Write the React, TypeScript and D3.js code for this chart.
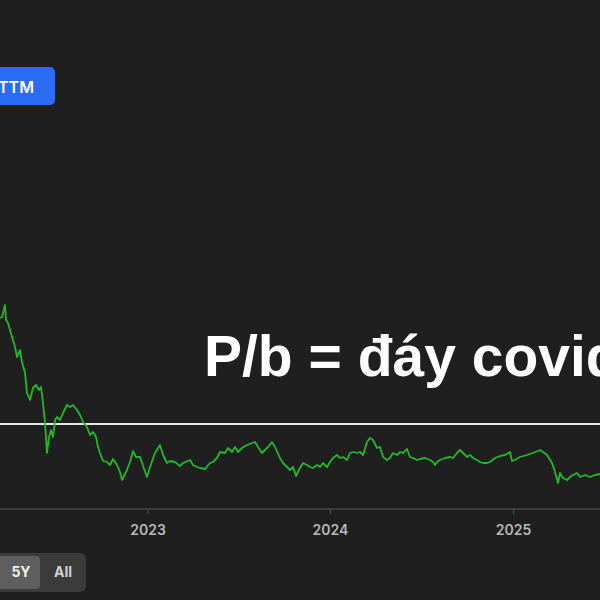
import React from "react";
import * as d3 from "d3";

const dates: string[] = [
  "2022-03-11","2022-03-15","2022-03-21","2022-03-23","2022-03-27","2022-04-04","2022-04-10","2022-04-14","2022-04-20","2022-04-24",
  "2022-04-30","2022-05-04","2022-05-10","2022-05-16","2022-05-22","2022-05-28","2022-06-01","2022-06-05","2022-06-09","2022-06-13",
  "2022-06-17","2022-06-21","2022-06-25","2022-06-29","2022-07-03","2022-07-09","2022-07-15","2022-07-23","2022-07-29","2022-08-04",
  "2022-08-12","2022-08-18","2022-08-24","2022-09-01","2022-09-07","2022-09-13","2022-09-19","2022-09-23","2022-09-27","2022-10-03",
  "2022-10-11","2022-10-17","2022-10-23","2022-10-31","2022-11-06","2022-11-10","2022-11-18","2022-11-26","2022-12-02","2022-12-08",
  "2022-12-16","2022-12-22","2022-12-30","2023-01-05","2023-01-15","2023-01-25","2023-01-31","2023-02-08","2023-02-14","2023-02-24",
  "2023-03-06","2023-03-12","2023-03-26","2023-04-01","2023-04-09","2023-04-15","2023-04-25","2023-05-05","2023-05-11","2023-05-19",
  "2023-05-25","2023-06-04","2023-06-10","2023-06-18","2023-06-24","2023-06-30","2023-07-08","2023-07-18","2023-07-28","2023-08-03",
  "2023-08-09","2023-08-17","2023-08-23","2023-08-29","2023-09-06","2023-09-12","2023-09-22","2023-09-28","2023-10-06","2023-10-12",
  "2023-10-18","2023-10-24","2023-11-01","2023-11-07","2023-11-15","2023-11-21","2023-11-27","2023-12-05","2023-12-11","2023-12-17",
  "2023-12-25","2023-12-31","2024-01-06","2024-01-14","2024-01-20","2024-01-26","2024-02-03","2024-02-09","2024-02-15","2024-02-23",
  "2024-02-29","2024-03-06","2024-03-14","2024-03-20","2024-03-26","2024-04-03","2024-04-09","2024-04-15","2024-04-23","2024-04-29",
  "2024-05-05","2024-05-13","2024-05-19","2024-05-25","2024-06-02","2024-06-08","2024-06-14","2024-06-22","2024-06-28","2024-07-08",
  "2024-07-18","2024-07-24","2024-07-28","2024-08-01","2024-08-07","2024-08-17","2024-08-27","2024-09-02","2024-09-10","2024-09-16",
  "2024-09-22","2024-09-30","2024-10-06","2024-10-12","2024-10-20","2024-10-26","2024-11-01","2024-11-09","2024-11-15","2024-11-25",
  "2024-12-05","2024-12-15","2024-12-25","2024-12-29","2025-01-04","2025-01-14","2025-01-28","2025-02-09","2025-02-23","2025-03-01",
  "2025-03-09","2025-03-19","2025-03-25","2025-03-31","2025-04-04","2025-04-10","2025-04-18","2025-04-24","2025-04-30","2025-05-08",
  "2025-05-14","2025-05-24","2025-06-03","2025-06-13","2025-06-23",
];

const pbValues: number[] = [
  2.91,2.92,3.04,2.89,2.86,2.72,2.62,2.52,2.59,2.47,
  2.36,2.16,2.09,2.21,2.24,2.19,2.22,2.06,1.86,1.56,
  1.72,1.79,1.72,1.89,1.92,1.89,1.96,2.04,2.02,2.04,
  1.99,1.94,1.87,1.82,1.74,1.77,1.72,1.62,1.56,1.48,
  1.47,1.44,1.50,1.44,1.37,1.29,1.37,1.47,1.58,1.52,
  1.52,1.43,1.32,1.42,1.56,1.64,1.54,1.46,1.48,1.47,
  1.43,1.46,1.49,1.44,1.42,1.41,1.40,1.46,1.47,1.51,
  1.57,1.56,1.61,1.57,1.62,1.57,1.61,1.64,1.66,1.67,
  1.62,1.56,1.59,1.62,1.67,1.62,1.51,1.46,1.42,1.39,
  1.42,1.33,1.41,1.46,1.44,1.42,1.41,1.44,1.42,1.46,
  1.42,1.47,1.51,1.54,1.51,1.52,1.49,1.56,1.57,1.56,
  1.57,1.54,1.67,1.71,1.69,1.61,1.62,1.52,1.49,1.51,
  1.56,1.54,1.57,1.56,1.60,1.52,1.51,1.49,1.50,1.51,
  1.49,1.47,1.44,1.47,1.49,1.51,1.52,1.51,1.56,1.59,
  1.56,1.52,1.54,1.51,1.49,1.47,1.46,1.46,1.47,1.51,
  1.53,1.54,1.57,1.48,1.49,1.52,1.54,1.56,1.59,1.57,
  1.54,1.46,1.37,1.26,1.36,1.31,1.29,1.32,1.34,1.36,
  1.32,1.34,1.32,1.34,1.35,
];

const covidBottomPB = 1.85;
const annotationText = "P/b = đáy covid";
const metricButton = "TTM";
const rangeButtons = ["5Y", "All"];
const activeRange = "5Y";
const xDomain = ["2022-03-11", "2025-06-23"];
const yDomain = [1, 3];

const W = 600;
const H = 600;

export default function App() {
  const parse = d3.utcParse("%Y-%m-%d");
  const data = dates.map((d, i) => ({ date: parse(d) as Date, v: pbValues[i] }));

  const x = d3
    .scaleUtc()
    .domain(xDomain.map((d) => parse(d) as Date))
    .range([0, W]);
  const y = d3.scaleLinear().domain(yDomain).range([509, 309]);

  const line = d3
    .line<{ date: Date; v: number }>()
    .x((d) => x(d.date))
    .y((d) => y(d.v))
    .curve(d3.curveLinear);

  const ticks = x.ticks(d3.utcYear.every(1) as any);
  const fmt = d3.utcFormat("%Y");
  const axisY = 509;

  return (
    <div style={{ position: "fixed", left: 0, top: 0, width: W, height: H }}>
      <svg width={W} height={H} style={{ display: "block" }}>
        <rect x={0} y={0} width={W} height={H} fill="#1f1f1f" />

        {/* TTM button */}
        <rect x={-8} y={67} width={63} height={38} rx={5} fill="#2c6cf5" />
        <text
          x={-2}
          y={93}
          fill="#ffffff"
          fontFamily="Inter, 'Noto Sans', sans-serif"
          fontSize={16}
          fontWeight={600}
        >
          {metricButton}
        </text>

        {/* axis */}
        <line x1={0} x2={W} y1={axisY} y2={axisY} stroke="#454545" strokeWidth={1.5} />
        {ticks.map((t) => (
          <g key={t.toISOString()} transform={`translate(${x(t)},0)`}>
            <line y1={axisY} y2={axisY + 5} stroke="#555" strokeWidth={1} />
            <text
              y={535}
              textAnchor="middle"
              fill="#b8b8b8"
              fontFamily="Inter, 'Noto Sans', sans-serif"
              fontSize={14}
              fontWeight={600}
            >
              {fmt(t)}
            </text>
          </g>
        ))}

        {/* covid bottom reference */}
        <line
          x1={0}
          x2={W}
          y1={y(covidBottomPB)}
          y2={y(covidBottomPB)}
          stroke="#e6e6e6"
          strokeWidth={2}
        />

        {/* P/B line */}
        <path d={line(data) || ""} fill="none" stroke="#22b82a" strokeWidth={1.8} strokeLinejoin="round" />

        {/* annotation */}
        <text
          x={204}
          y={376}
          fill="#ffffff"
          fontFamily="'Liberation Sans', Arial, sans-serif"
          fontSize={57}
          fontWeight={700}
        >
          {annotationText}
        </text>

        {/* range buttons */}
        <rect x={-8} y={553} width={94} height={39} rx={6} fill="#3b3b3b" />
        <rect x={-6} y={556} width={46} height={33} rx={4} fill="#5e5e5e" />
        {rangeButtons.map((b, i) => (
          <text
            key={b}
            x={i === 0 ? 21 : 63}
            y={577}
            textAnchor="middle"
            fill={b === activeRange ? "#f0f0f0" : "#d0d0d0"}
            fontFamily="Inter, 'Noto Sans', sans-serif"
            fontSize={14}
            fontWeight={700}
          >
            {b}
          </text>
        ))}
      </svg>
    </div>
  );
}
